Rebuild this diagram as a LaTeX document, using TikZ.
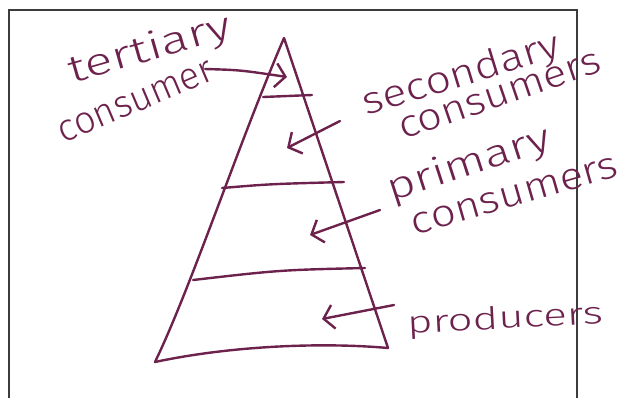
\documentclass[tikz,border=0pt]{standalone}
\usepackage{fontspec}
\usepackage{graphicx}
\setmainfont{Fira Sans Light}
\usetikzlibrary{arrows.meta}
\definecolor{ink}{RGB}{108,34,76}
\definecolor{frame}{RGB}{60,60,60}
\newcommand{\fitw}[2]{\resizebox{#1}{\height}{#2}}
\tikzset{
  pen/.style={draw=ink, line width=2.4pt, line cap=round, line join=round},
  arr/.style={pen, -{Straight Barb[length=10pt,width=24pt,line width=2.4pt]}},
  hand/.style={text=ink, inner sep=0pt, font=\fontsize{38}{38}\selectfont},
  small/.style={font=\fontsize{31}{31}\selectfont},
  framel/.style={draw=frame, line width=1.4pt}
}
\begin{document}
\begin{tikzpicture}[x=1pt,y=-1pt]
\useasboundingbox (0,0) rectangle (642,397);
% frame
\draw[framel] (9,400) -- (9,10) -- (577,10) -- (577,400);
% pyramid
\coordinate (apex) at (284,38);
\coordinate (bl) at (155,362);
\coordinate (br) at (388,348);
\draw[pen] (bl) .. controls (190,290) and (240,140) .. (apex) -- (br);
\draw[pen] (bl) .. controls (230,346) and (320,342) .. (br);
\coordinate (l1a) at (263,97);  \coordinate (l1b) at (312,95);
\coordinate (l2a) at (222,188); \coordinate (l2b) at (344,182);
\coordinate (l3a) at (193,280); \coordinate (l3b) at (365,268);
\draw[pen] (l1a) -- (l1b);
\draw[pen] (l2a) .. controls (270,184) .. (l2b);
\draw[pen] (l3a) .. controls (280,270) .. (l3b);
% labels
\node[hand, rotate=16] (tert1) at (150,50) {\fitw{168pt}{tertiary}};
\node[hand, rotate=23] (tert2) at (136,102) {\fitw{166pt}{consumer}};
\node[hand, rotate=17] (sec1) at (462,76) {\fitw{205pt}{secondary}};
\node[hand, rotate=19] (sec2) at (500,96) {\fitw{212pt}{consumers}};
\node[hand, rotate=18] (pri1) at (469,165) {\fitw{170pt}{primary}};
\node[hand, rotate=16] (pri2) at (515,196) {\fitw{214pt}{consumers}};
\node[hand, small, rotate=3] (prod) at (505,320) {\fitw{196pt}{producers}};
% arrows
\coordinate (tT) at (205,69);  \coordinate (tH) at (287,77);
\coordinate (sT) at (340,121); \coordinate (sH) at (287,148);
\coordinate (pT) at (380,210); \coordinate (pH) at (310,235);
\coordinate (qT) at (394,305); \coordinate (qH) at (322,319);
\draw[arr] (tT) .. controls (240,70) .. (tH);
\draw[arr] (sT) -- (sH);
\draw[arr] (pT) -- (pH);
\draw[arr] (qT) -- (qH);
\end{tikzpicture}
\end{document}
